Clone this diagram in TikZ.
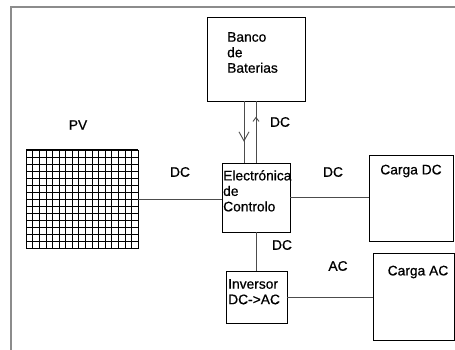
\documentclass[tikz,border=0pt]{standalone}
\usepackage{fontspec}
\setmainfont{Liberation Sans}[FakeBold=0.7]
\usetikzlibrary{arrows.meta,decorations.markings}
\begin{document}
\begin{tikzpicture}[x=1pt,y=-1pt,
  box/.style={draw=black,line width=0.9pt,inner sep=0pt,fill=none},
  wire/.style={draw=black!70,line width=0.9pt},
  lbl/.style={font=\fontsize{13.8}{15.5}\selectfont,inner sep=0pt},
  boxtext/.style={lbl,align=left,anchor=north west},
  downmark/.style={postaction={decorate},decoration={markings,
     mark=at position #1 with {\arrow{Straight Barb[length=9pt,width=10pt,line width=0.9pt]}}}},
  upmark/.style={postaction={decorate},decoration={markings,
     mark=at position #1 with {\arrow{Straight Barb[length=4pt,width=6pt,line width=0.9pt]}}}}
]
\useasboundingbox (0,0) rectangle (455,350);
% frame
\draw[black!45,line width=1.2pt] (11,350) -- (11,7) -- (455,7);

% boxes
\node[box,minimum width=98pt,minimum height=84pt] (banco) at (256,59) {};
\node[box,minimum width=68pt,minimum height=69pt] (elec) at (256,197.5) {};
\node[box,minimum width=84pt,minimum height=86pt] (cdc) at (411,198) {};
\node[box,minimum width=61pt,minimum height=52pt] (inv) at (256.5,297) {};
\node[box,minimum width=81pt,minimum height=87pt] (cac) at (413.5,296.5) {};
\node[draw=black,line width=0.8pt,minimum width=112pt,minimum height=98pt,inner sep=0pt] (pv) at (82,199) {};
\foreach \i in {1,...,16} \draw[black,line width=0.5pt] (26+\i*112/17,150) -- (26+\i*112/17,248);
\foreach \j in {1,...,13} \draw[black,line width=0.5pt] (26,150+\j*98/14) -- (138,150+\j*98/14);
\draw[black,line width=1.2pt] (26,150) -- (138,150);

% box texts
\node[boxtext] (tbanco) at (227,32) {Banco\\de\\Baterias};
\node[boxtext] (telec) at (223,170) {Electrónica\\de\\Controlo};
\node[boxtext] (tinv) at (228,279) {Inversor\\DC->AC};
\node[lbl] (tcdc) at (411,171) {Carga DC};
\node[lbl] (tcac) at (418,272) {Carga AC};

% labels
\node[lbl] (pvlbl) at (78,125) {PV};
\node[lbl] (dc1) at (180,172) {DC};
\node[lbl] (dc2) at (280,122) {DC};
\node[lbl] (dc3) at (333,172) {DC};
\node[lbl] (dc4) at (282,245) {DC};
\node[lbl] (ac1) at (338,266) {AC};

% connectors
\draw[wire,downmark=0.66] ([xshift=-12pt]banco.south) -- ([xshift=-12pt]elec.north);
\draw[wire,upmark=0.75] (elec.north) -- (banco.south);
\draw[wire] (pv.east) -- (pv.east -| elec.west);
\draw[wire] (elec.east) -- (elec.east -| cdc.west);
\draw[wire] (elec.south) -- (elec.south |- inv.north);
\draw[wire] (inv.east) -- (inv.east -| cac.west);
\end{tikzpicture}
\end{document}
